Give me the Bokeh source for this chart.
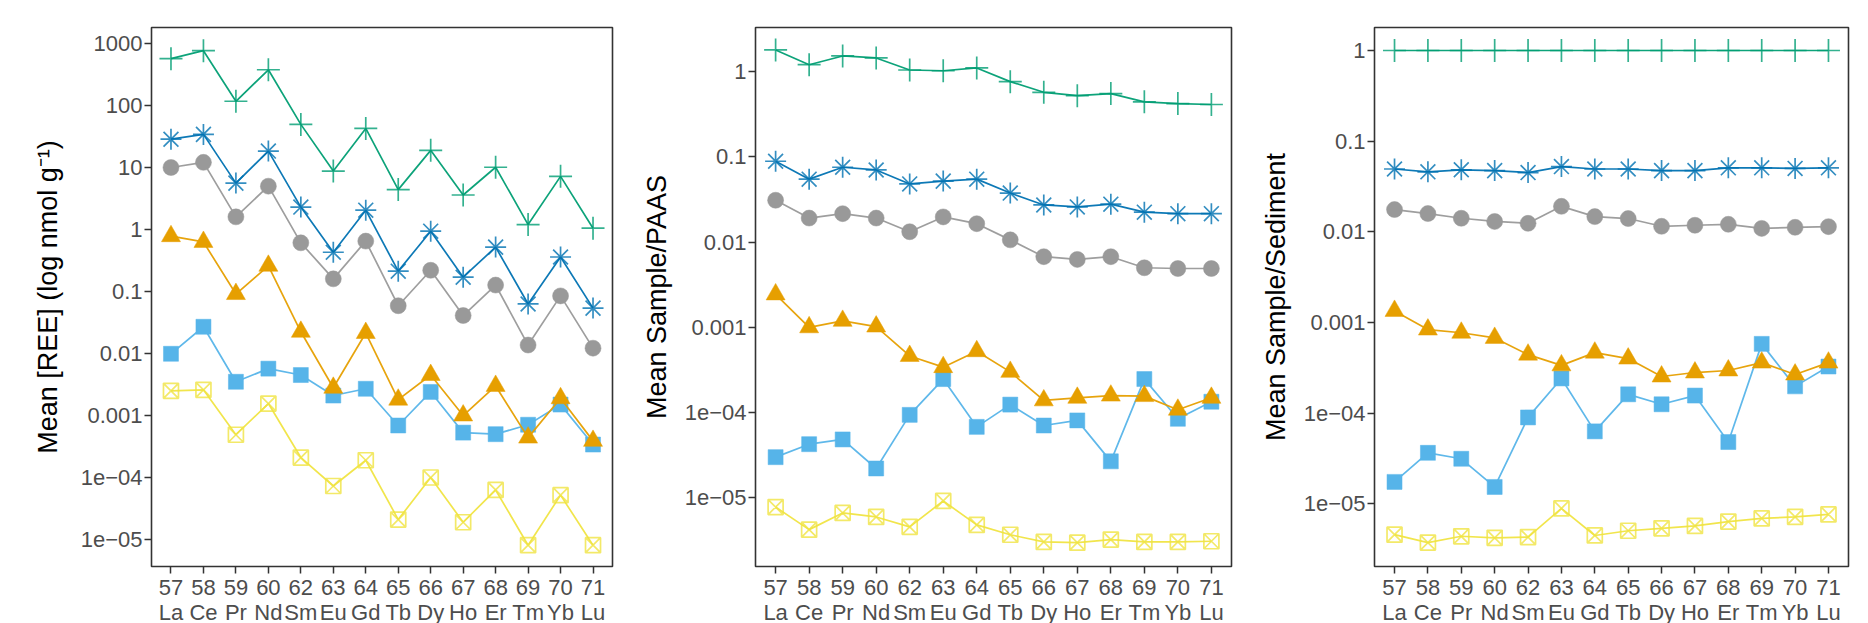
from bokeh.plotting import figure
from bokeh.layouts import row
from bokeh.models import Range1d, FixedTicker
from bokeh.embed import file_html
from bokeh.resources import INLINE

# ---------------- data ----------------
atomic_numbers = ["57", "58", "59", "60", "62", "63", "64", "65", "66", "67", "68", "69", "70", "71"]
elements = ["La", "Ce", "Pr", "Nd", "Sm", "Eu", "Gd", "Tb", "Dy", "Ho", "Er", "Tm", "Yb", "Lu"]

# Panel 1: Mean [REE] (nmol/g)
p1_green = [570, 766, 117, 377, 49.6, 8.75, 42.7, 4.4, 18.9, 3.6, 10.1, 1.2, 7.2, 1.05]
p1_blue = [28.6, 34.2, 5.6, 18.4, 2.3, 0.43, 2.05, 0.213, 0.94, 0.17, 0.52, 0.063, 0.36, 0.054]
p1_grey = [10.0, 12.1, 1.6, 5.0, 0.61, 0.16, 0.65, 0.059, 0.22, 0.041, 0.127, 0.0137, 0.085, 0.0122]
p1_orange = [0.78, 0.63, 0.091, 0.26, 0.0224, 0.0028, 0.0214, 0.0018, 0.0045, 0.001, 0.003, 0.00044, 0.0019, 0.00039]
p1_skyblue = [0.0099, 0.027, 0.0035, 0.0057, 0.0045, 0.0021, 0.0027, 0.00069, 0.0024, 0.00053, 0.0005, 0.00071, 0.0015, 0.00034]
p1_yellow = [0.0025, 0.0026, 0.00049, 0.00156, 0.00021, 7.3e-5, 1.9e-4, 2.1e-5, 1.0e-4, 1.9e-5, 6.3e-5, 8.1e-6, 5.2e-5, 8.1e-6]

# Panel 2: Mean Sample/PAAS
p2_green = [1.79, 1.2, 1.52, 1.44, 1.04, 1.02, 1.10, 0.76, 0.57, 0.52, 0.55, 0.44, 0.42, 0.41]
p2_blue = [0.0885, 0.0546, 0.0753, 0.070, 0.048, 0.0518, 0.0546, 0.0375, 0.0272, 0.0258, 0.0278, 0.0224, 0.0215, 0.0215]
p2_grey = [0.0309, 0.0191, 0.0215, 0.0191, 0.0132, 0.0197, 0.0164, 0.0106, 0.00673, 0.00625, 0.00673, 0.00499, 0.00489, 0.00489]
p2_orange = [0.00243, 0.001, 0.00119, 0.00102, 0.000461, 0.000341, 0.000524, 0.0003, 0.000139, 0.000149, 0.000158, 0.000156, 0.000108, 0.000149]
p2_skyblue = [3.0e-5, 4.26e-5, 4.84e-5, 2.21e-5, 9.4e-5, 2.47e-4, 6.8e-5, 1.24e-4, 7.05e-5, 8.1e-5, 2.68e-5, 2.47e-4, 8.45e-5, 1.34e-4]
p2_yellow = [7.8e-6, 4.24e-6, 6.65e-6, 5.97e-6, 4.57e-6, 9.2e-6, 4.82e-6, 3.69e-6, 3.04e-6, 2.98e-6, 3.24e-6, 3.04e-6, 3.04e-6, 3.1e-6]

# Panel 3: Mean Sample/Sediment
p3_green = [1, 1, 1, 1, 1, 1, 1, 1, 1, 1, 1, 1, 1, 1]
p3_blue = [0.0493, 0.0459, 0.0483, 0.0473, 0.045, 0.0524, 0.0493, 0.0493, 0.0473, 0.0473, 0.0508, 0.0508, 0.050, 0.0508]
p3_grey = [0.0176, 0.0159, 0.0141, 0.013, 0.0124, 0.0191, 0.0147, 0.014, 0.0115, 0.0118, 0.0121, 0.0109, 0.0112, 0.0114]
p3_orange = [0.00134, 0.000834, 0.000769, 0.000675, 0.000441, 0.000336, 0.000464, 0.000399, 0.000253, 0.00028, 0.000295, 0.00036, 0.000266, 0.00036]
p3_skyblue = [1.74e-5, 3.64e-5, 3.13e-5, 1.53e-5, 8.95e-5, 2.41e-4, 6.28e-5, 1.61e-4, 1.25e-4, 1.56e-4, 4.79e-5, 5.8e-4, 1.97e-4, 3.26e-4]
p3_yellow = [4.55e-6, 3.72e-6, 4.37e-6, 4.2e-6, 4.28e-6, 8.86e-6, 4.46e-6, 5.03e-6, 5.35e-6, 5.68e-6, 6.35e-6, 6.88e-6, 7.16e-6, 7.62e-6]

p1_ticks = [1000, 100, 10, 1, 0.1, 0.01, 0.001, 1e-4, 1e-5]
p1_tick_labels = ["1000", "100", "10", "1", "0.1", "0.01", "0.001", "1e\u221204", "1e\u221205"]
p23_ticks = [1, 0.1, 0.01, 0.001, 1e-4, 1e-5]
p23_tick_labels = ["1", "0.1", "0.01", "0.001", "1e\u221204", "1e\u221205"]

y_titles = ["Mean [REE] (log nmol g\u207b\u00b9)", "Mean Sample/PAAS", "Mean Sample/Sediment"]

# ---------------- styling ----------------
FONT = "Liberation Sans"
STYLE = {
    "yellow": dict(color="#F0E442", marker="square_x", size=15, filled=False),
    "skyblue": dict(color="#56B4E9", marker="square", size=15, filled=True),
    "orange": dict(color="#E69F00", marker="triangle", size=19, filled=True),
    "grey": dict(color="#999999", marker="circle", size=16, filled=True),
    "blue": dict(color="#0072B2", marker="asterisk", size=21, filled=False),
    "green": dict(color="#009E73", marker="cross", size=23, filled=False),
}
ORDER = ["yellow", "skyblue", "orange", "grey", "blue", "green"]


def make_panel(series, y_lo, y_hi, ticks, tick_labels, title, border_left, frame_w, border_right, title_standoff):
    p = figure(
        output_backend="svg", toolbar_location=None, y_axis_type="log",
        x_range=Range1d(-0.6, 13.6), y_range=Range1d(y_lo, y_hi),
        frame_width=frame_w, frame_height=539,
        min_border_left=border_left, min_border_right=border_right,
        min_border_top=27, min_border_bottom=0,
        background_fill_color="white", border_fill_color="white",
    )
    p.grid.visible = False
    p.outline_line_color = "#333333"
    p.outline_line_width = 1.6
    xs = list(range(len(elements)))
    for key in ORDER:
        st = STYLE[key]
        ys = series[key]
        p.line(xs, ys, line_color=st["color"], line_width=1.7, line_alpha=0.95)
        if st["filled"]:
            p.scatter(xs, ys, marker=st["marker"], size=st["size"], fill_color=st["color"],
                      line_color=st["color"], line_width=0.5)
        else:
            p.scatter(xs, ys, marker=st["marker"], size=st["size"], fill_color=None,
                      line_color=st["color"], line_width=1.7, line_alpha=0.8)

    # x axis
    xa = p.xaxis[0]
    xa.ticker = FixedTicker(ticks=xs)
    xa.major_label_overrides = {i: f"{atomic_numbers[i]}\n{elements[i]}" for i in xs}
    xa.major_label_text_font = FONT
    xa.major_label_text_font_size = "22px"
    xa.major_label_text_color = "#4D4D4D"
    xa.major_label_text_line_height = 1.0
    xa.major_label_standoff = 1
    xa.axis_line_color = None
    xa.major_tick_line_color = "#333333"
    xa.major_tick_line_width = 1.5
    xa.major_tick_in = 0
    xa.major_tick_out = 7
    xa.minor_tick_line_color = None

    # y axis
    ya = p.yaxis[0]
    ya.ticker = FixedTicker(ticks=ticks, minor_ticks=[])
    ya.major_label_overrides = {t: l for t, l in zip(ticks, tick_labels)}
    ya.major_label_text_font = FONT
    ya.major_label_text_font_size = "22px"
    ya.major_label_text_color = "#4D4D4D"
    ya.major_label_standoff = 2
    ya.axis_line_color = None
    ya.major_tick_line_color = "#333333"
    ya.major_tick_line_width = 1.5
    ya.major_tick_in = 0
    ya.major_tick_out = 7
    ya.minor_tick_line_color = None
    ya.axis_label = title
    ya.axis_label_text_font = FONT
    ya.axis_label_text_font_size = "27px"
    ya.axis_label_text_font_style = "normal"
    ya.axis_label_text_color = "#000000"
    ya.axis_label_standoff = title_standoff
    return p


p1 = make_panel(
    dict(green=p1_green, blue=p1_blue, grey=p1_grey, orange=p1_orange, skyblue=p1_skyblue, yellow=p1_yellow),
    10 ** -5.435, 10 ** 3.258, p1_ticks, p1_tick_labels, y_titles[0], 151, 461, 10, 15)
p2 = make_panel(
    dict(green=p2_green, blue=p2_blue, grey=p2_grey, orange=p2_orange, skyblue=p2_skyblue, yellow=p2_yellow),
    10 ** -5.805, 10 ** 0.5156, p23_ticks, p23_tick_labels, y_titles[1], 133, 476, 11, 10)
p3 = make_panel(
    dict(green=p3_green, blue=p3_blue, grey=p3_grey, orange=p3_orange, skyblue=p3_skyblue, yellow=p3_yellow),
    10 ** -5.693, 10 ** 0.254, p23_ticks, p23_tick_labels, y_titles[2], 132, 474, 4, 10)

layout = row(p1, p2, p3, spacing=0)
open("out.html", "w").write(file_html(layout, INLINE))
